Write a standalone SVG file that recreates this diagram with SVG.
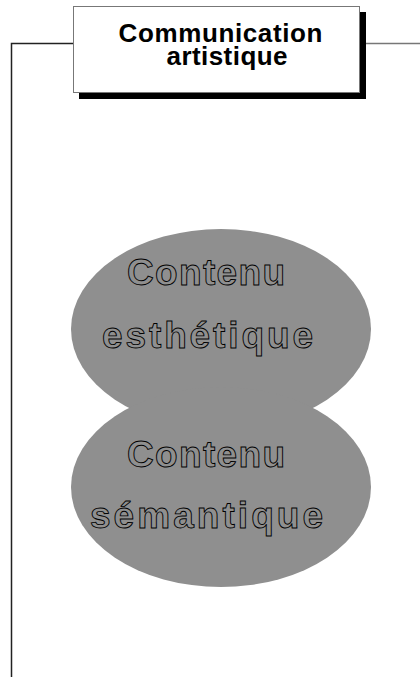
<svg xmlns="http://www.w3.org/2000/svg" width="420" height="677" viewBox="0 0 420 677">
<style>
.title{font-family:"Liberation Sans",Arial,sans-serif;font-weight:bold;font-size:26px;fill:#000;text-anchor:middle}
.out{font-family:"Liberation Sans",Arial,sans-serif;font-weight:bold;font-size:37px;fill:#8f8f8f;stroke:#000;stroke-width:0.9;text-anchor:middle}
.blob{fill:#8f8f8f}
.line{fill:none;stroke:#222;stroke-width:1.5}
</style>
<rect width="420" height="677" fill="#fff"/>
<g id="connectors">
<polyline class="line" points="11.5,677 11.5,43.5 73,43.5"/>
<line x1="366" y1="43.5" x2="420" y2="43.5" stroke="#777" stroke-width="1.5"/>
</g>
<g id="title">
<rect x="79" y="12" width="287" height="87" fill="#000"/>
<rect x="73.5" y="6.5" width="286" height="86" fill="#fff" stroke="#777" stroke-width="1"/>
<text class="title" x="220.5" y="41.5" textLength="204">Communication</text>
<text class="title" x="227" y="64.5" textLength="121">artistique</text>
</g>
<g id="contenu-esthetique">
<ellipse class="blob" cx="221" cy="329" rx="150" ry="100"/>
</g>
<g id="contenu-semantique">
<ellipse class="blob" cx="221" cy="487" rx="150" ry="100"/>
</g>
<g id="labels">
<text class="out" x="206" y="285" textLength="158">Contenu</text>
<text class="out" x="207.5" y="348" textLength="211">esthétique</text>
<text class="out" x="206" y="467" textLength="158">Contenu</text>
<text class="out" x="206.5" y="528" textLength="233">sémantique</text>
</g>
</svg>
